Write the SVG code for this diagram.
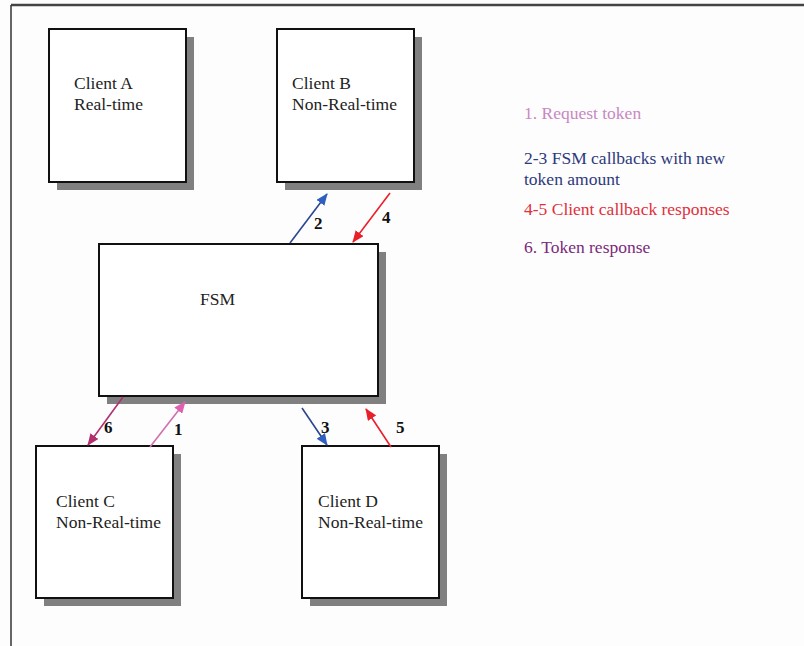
<svg xmlns="http://www.w3.org/2000/svg" width="804" height="646" viewBox="0 0 804 646">
<defs>
<style>
.box{fill:#fff;stroke:#111;stroke-width:2}
.shadow{fill:#808080}
.t{font-family:"Liberation Serif","DejaVu Serif","Times New Roman",serif;font-size:17.5px;fill:#222}
.n{font-family:"Liberation Serif","DejaVu Serif","Times New Roman",serif;font-size:17px;font-weight:bold;fill:#111}
.lg{font-family:"Liberation Serif","DejaVu Serif","Times New Roman",serif;font-size:17.5px}
.c{fill:none;stroke-width:1.6}
</style>
<marker id="aBlue" viewBox="0 0 12 10" refX="11" refY="5" markerWidth="12" markerHeight="10" markerUnits="userSpaceOnUse" orient="auto"><path d="M0,0 L12,5 L0,10 Z" fill="#2f5fbf"/></marker>
<marker id="aRed" viewBox="0 0 12 10" refX="11" refY="5" markerWidth="12" markerHeight="10" markerUnits="userSpaceOnUse" orient="auto"><path d="M0,0 L12,5 L0,10 Z" fill="#e8202a"/></marker>
<marker id="aMag" viewBox="0 0 12 10" refX="11" refY="5" markerWidth="12" markerHeight="10" markerUnits="userSpaceOnUse" orient="auto"><path d="M0,0 L12,5 L0,10 Z" fill="#b0306e"/></marker>
<marker id="aPink" viewBox="0 0 12 10" refX="11" refY="5" markerWidth="12" markerHeight="10" markerUnits="userSpaceOnUse" orient="auto"><path d="M0,0 L12,5 L0,10 Z" fill="#e060b0"/></marker>
</defs>
<rect width="804" height="646" fill="#fefdfe"/>
<g id="frame">
<line x1="11" y1="5" x2="804" y2="5" stroke="#444" stroke-width="2.5"/>
<line x1="11" y1="5" x2="11" y2="646" stroke="#333" stroke-width="1.5"/>
</g>
<g id="clientA">
<rect class="shadow" x="57" y="37" width="137" height="153"/>
<rect class="box" x="49" y="29" width="137" height="153"/>
<text class="t" x="74" y="89">Client A</text>
<text class="t" x="74" y="110">Real-time</text>
</g>
<g id="clientB">
<rect class="shadow" x="285" y="37" width="137" height="153"/>
<rect class="box" x="277" y="29" width="137" height="153"/>
<text class="t" x="292" y="89">Client B</text>
<text class="t" x="292" y="110">Non-Real-time</text>
</g>
<g id="fsm">
<rect class="shadow" x="107" y="252" width="279" height="152"/>
<rect class="box" x="99" y="244" width="279" height="152"/>
<text class="t" x="200" y="305">FSM</text>
</g>
<g id="clientC">
<rect class="shadow" x="44" y="454" width="137" height="152"/>
<rect class="box" x="36" y="446" width="137" height="152"/>
<text class="t" x="56" y="507">Client C</text>
<text class="t" x="56" y="528">Non-Real-time</text>
</g>
<g id="clientD">
<rect class="shadow" x="310" y="454" width="137" height="152"/>
<rect class="box" x="302" y="446" width="137" height="152"/>
<text class="t" x="318" y="507">Client D</text>
<text class="t" x="318" y="528">Non-Real-time</text>
</g>
<g id="connectors">
<line class="c" x1="290" y1="243" x2="327" y2="194" stroke="#2a4590" marker-end="url(#aBlue)"/>
<line class="c" x1="390" y1="193" x2="353" y2="242" stroke="#e8202a" marker-end="url(#aRed)"/>
<line class="c" x1="123" y1="397" x2="88" y2="445" stroke="#b0306e" marker-end="url(#aMag)"/>
<line class="c" x1="150" y1="447" x2="185" y2="402" stroke="#d070b0" marker-end="url(#aPink)"/>
<line class="c" x1="302" y1="408" x2="327" y2="445" stroke="#2a4590" marker-end="url(#aBlue)"/>
<line class="c" x1="391" y1="447" x2="366" y2="409" stroke="#e8202a" marker-end="url(#aRed)"/>
<text class="n" x="314" y="229">2</text>
<text class="n" x="382" y="223">4</text>
<text class="n" x="104" y="433">6</text>
<text class="n" x="174" y="435">1</text>
<text class="n" x="321" y="433">3</text>
<text class="n" x="396" y="433">5</text>
</g>
<g id="legend">
<text class="lg" x="524" y="119" fill="#c888c0">1. Request token</text>
<text class="lg" x="524" y="164" fill="#2c3a7a">2-3 FSM callbacks with new</text>
<text class="lg" x="524" y="185" fill="#2c3a7a">token amount</text>
<text class="lg" x="524" y="215" fill="#e0303a">4-5 Client callback responses</text>
<text class="lg" x="524" y="253" fill="#7a2a7a">6. Token response</text>
</g>
</svg>
